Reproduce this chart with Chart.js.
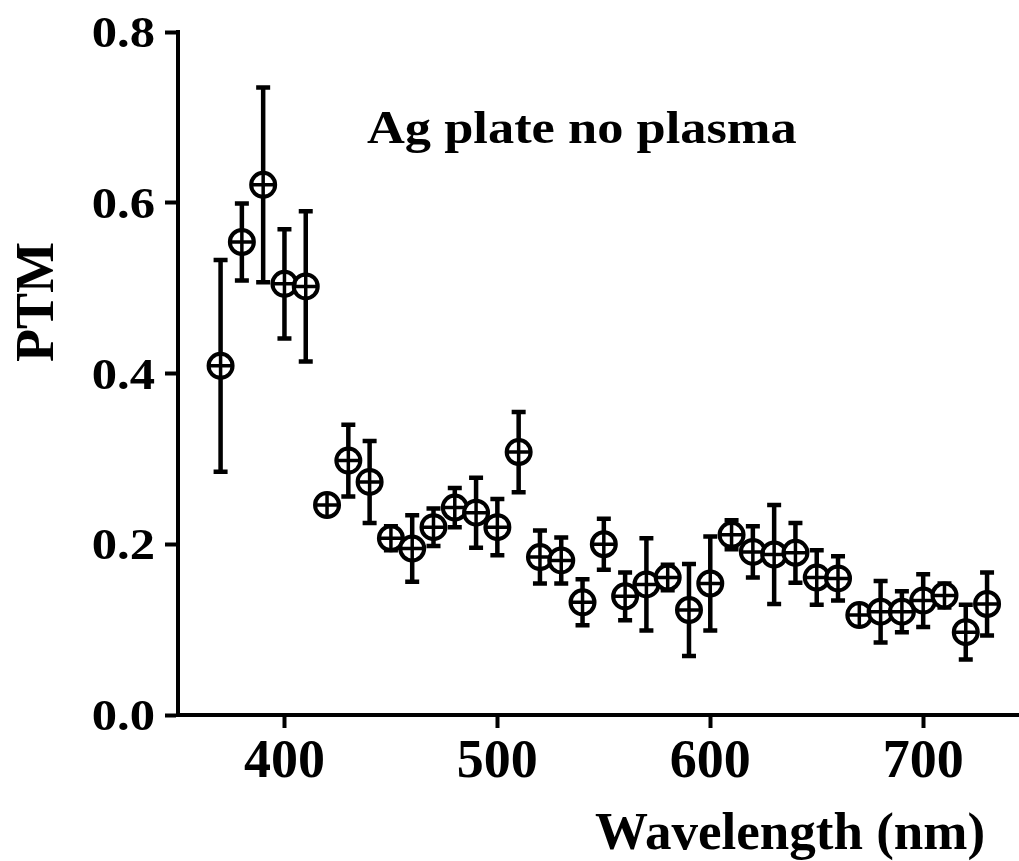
<!DOCTYPE html>
<html>
<head>
<meta charset="utf-8">
<script src="https://cdn.jsdelivr.net/npm/chart.js@4"></script>
<style>
  html, body { margin: 0; padding: 0; background: #fff; }
</style>
</head>
<body>
<canvas id="chart" width="1019" height="861"></canvas>
<script>
// values
const wavelengths = [370, 380, 390, 400, 410, 420, 430, 440, 450, 460, 470, 480, 490, 500, 510, 520, 530, 540, 550,
                     560, 570, 580, 590, 600, 610, 620, 630, 640, 650, 660, 670, 680, 690, 700, 710, 720, 730];
const ptm = [0.409, 0.554, 0.621, 0.505, 0.502, 0.246, 0.298, 0.273, 0.207, 0.195, 0.220, 0.243, 0.237, 0.220, 0.308, 0.185, 0.181, 0.132, 0.200,
             0.139, 0.153, 0.161, 0.123, 0.154, 0.211, 0.191, 0.188, 0.190, 0.161, 0.160, 0.117, 0.121, 0.121, 0.134, 0.140, 0.097, 0.130];
const ptmErr = [0.124, 0.045, 0.114, 0.064, 0.088, 0.008, 0.042, 0.048, 0.014, 0.039, 0.022, 0.023, 0.041, 0.033, 0.047, 0.031, 0.027, 0.027, 0.030,
                0.028, 0.054, 0.015, 0.054, 0.055, 0.017, 0.030, 0.058, 0.035, 0.032, 0.026, 0.005, 0.036, 0.024, 0.031, 0.014, 0.032, 0.037];

const xTicks = [400, 500, 600, 700];
const yTicks = [0, 0.2, 0.4, 0.6, 0.8];
const yTickLabels = ['0.0', '0.2', '0.4', '0.6', '0.8'];

const plotLabel = 'Ag plate no plasma';
const xTitle = 'Wavelength (nm)';
const yTitle = 'PTM';

const FONT = 'Liberation Serif';
const points = wavelengths.map((w, i) => ({ x: w, y: ptm[i] }));

// error bars go under the markers
const errorBars = {
    id: 'errorBars',
    beforeDatasetsDraw(chart) {
        const { ctx, scales: { x, y } } = chart;
        ctx.save();
        ctx.strokeStyle = '#000';
        ctx.lineWidth = 4.5;
        wavelengths.forEach((w, i) => {
            const px = x.getPixelForValue(w);
            const top = y.getPixelForValue(ptm[i] + ptmErr[i]);
            const bot = y.getPixelForValue(ptm[i] - ptmErr[i]);
            ctx.beginPath();
            ctx.moveTo(px, top); ctx.lineTo(px, bot);
            ctx.moveTo(px - 7, top); ctx.lineTo(px + 7, top);
            ctx.moveTo(px - 7, bot); ctx.lineTo(px + 7, bot);
            ctx.stroke();
        });
        ctx.restore();
    }
};

// text the reference draws off-centre / stretched
const labels = {
    id: 'labels',
    afterDraw(chart) {
        const { ctx, scales: { y } } = chart;
        ctx.save();
        ctx.fillStyle = '#000';

        // y tick labels, drawn a bit wide like the original
        ctx.font = 'bold 44px ' + FONT;
        ctx.textAlign = 'right';
        ctx.textBaseline = 'alphabetic';
        y.ticks.forEach((t, i) => {
            ctx.save();
            ctx.translate(155, y.getPixelForValue(t.value) + 15);
            ctx.scale(1.15, 1);
            ctx.fillText(yTickLabels[i], 0, 0);
            ctx.restore();
        });

        // label inside the plot
        ctx.font = 'bold 46px ' + FONT;
        ctx.textAlign = 'left';
        ctx.save();
        ctx.translate(367, 143);
        ctx.scale(1.14, 1);
        ctx.fillText(plotLabel, 0, 0);
        ctx.restore();

        // axis titles
        ctx.font = 'bold 53px ' + FONT;
        ctx.fillText(xTitle, 595, 849);

        ctx.font = 'bold 54px ' + FONT;
        ctx.textAlign = 'center';
        ctx.translate(53, 302);
        ctx.rotate(-Math.PI / 2);
        ctx.fillText(yTitle, 0, 0);
        ctx.restore();
    }
};

new Chart(document.getElementById('chart'), {
    type: 'scatter',
    data: {
        datasets: [
            // dataset 0 is painted last, so the crosses sit on the circles
            {
                data: points,
                pointStyle: 'cross',
                pointRadius: 12,
                pointHoverRadius: 12,
                borderWidth: 3.5,
                borderColor: '#000'
            },
            {
                data: points,
                pointStyle: 'circle',
                pointRadius: 12,
                pointHoverRadius: 12,
                borderWidth: 4,
                borderColor: '#000',
                backgroundColor: '#fff'
            }
        ]
    },
    options: {
        responsive: false,
        animation: false,
        events: [],
        layout: { autoPadding: false, padding: { top: 32, right: 0, bottom: 0, left: 0 } },
        plugins: { legend: { display: false }, tooltip: { enabled: false } },
        scales: {
            x: {
                type: 'linear',
                min: 350,
                max: 745,
                afterBuildTicks: s => { s.ticks = xTicks.map(v => ({ value: v })); },
                afterFit: s => { s.height = 146; s.paddingLeft = 0; s.paddingRight = 0; },
                ticks: {
                    color: '#000',
                    padding: 8,
                    maxRotation: 0,
                    font: { family: FONT, size: 54, weight: 'bold', lineHeight: 1 }
                },
                grid: { display: true, drawOnChartArea: false, tickLength: 13, tickWidth: 4, color: '#000' },
                border: { display: true, color: '#000', width: 4 }
            },
            y: {
                min: 0,
                max: 0.8,
                afterBuildTicks: s => { s.ticks = yTicks.map(v => ({ value: v })); },
                afterFit: s => { s.width = 178; s.paddingTop = 0; s.paddingBottom = 0; },
                ticks: { display: false },
                grid: { display: true, drawOnChartArea: false, tickLength: 13, tickWidth: 4, color: '#000' },
                border: { display: true, color: '#000', width: 4 }
            }
        }
    },
    plugins: [errorBars, labels]
});
</script>
</body>
</html>
